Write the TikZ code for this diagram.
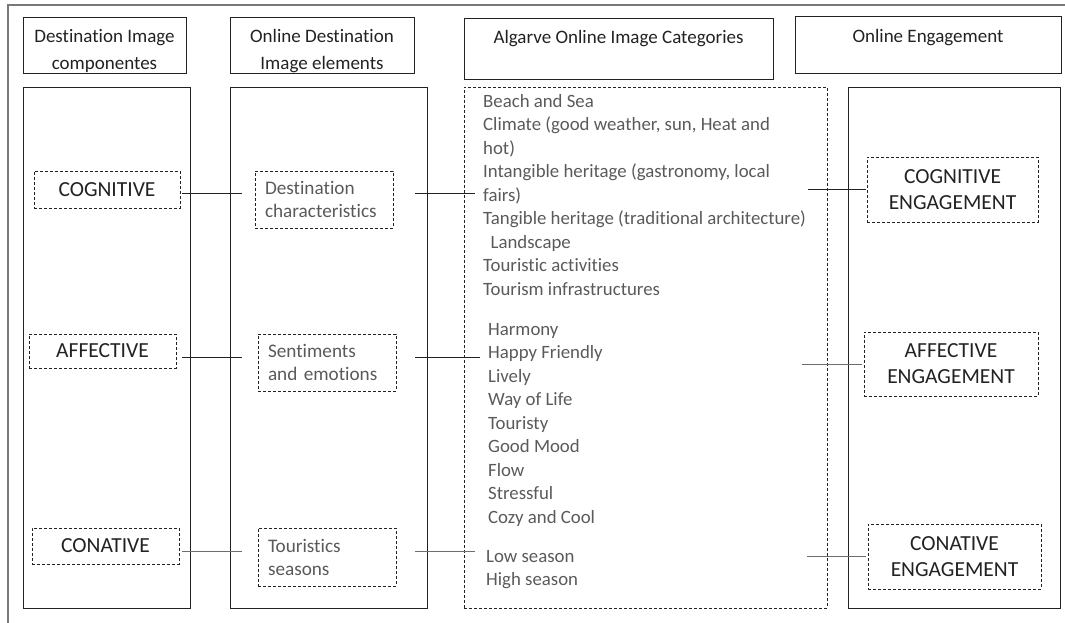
\documentclass[tikz,border=0pt]{standalone}
\usepackage{fontspec}
\setmainfont{Carlito}[Ligatures=NoCommon]
\usepackage{tikz}
\usetikzlibrary{positioning}
\definecolor{AlgInk}{RGB}{34,34,34}
\definecolor{AlgGray}{RGB}{90,90,90}
\definecolor{AlgLine}{RGB}{110,110,110}
\definecolor{AlgFrame}{RGB}{120,120,120}
\tikzset{
  alg/head/.style={
    draw=AlgInk,
    line width=0.9pt,
    align=center,
    text=AlgInk,
    anchor=center,
    inner sep=0pt,
    font=\fontsize{19}{27}\selectfont
  },
  alg/column/.style={
    draw=AlgInk,
    line width=0.9pt,
    inner sep=0pt,
    minimum height=521pt
  },
  alg/dcolumn/.style={
    alg/column,
    dashed,
    dash pattern=on 3pt off 2pt,
    line width=0.7pt
  },
  alg/label/.style={
    draw=AlgInk,
    dashed,
    dash pattern=on 3pt off 2pt,
    line width=0.7pt,
    align=center,
    text=AlgInk,
    inner sep=0pt,
    font=\fontsize{21.5}{26}\selectfont
  },
  alg/element/.style={
    draw=AlgInk,
    dashed,
    dash pattern=on 3pt off 2pt,
    line width=0.7pt,
    align=left,
    text=AlgGray,
    inner sep=0pt,
    text width=118pt,
    font=\fontsize{19.2}{23}\selectfont
  },
  alg/list/.style={
    anchor=west,
    align=left,
    text=AlgGray,
    inner sep=4pt,
    font=\fontsize{18.8}{23.5}\selectfont
  },
  alg/link/.style={line width=0.9pt, draw=AlgInk},
  alg/graylink/.style={line width=1pt, draw=AlgLine},
  alg/frame/.style={line width=1.3pt, draw=AlgFrame}
}
\begin{document}
\begin{tikzpicture}[x=1pt,y=-1pt]
  \useasboundingbox (0,0) rectangle (1065,623);
  \draw[alg/frame] (1065,5) -- (8,5) -- (8,623);
  % column headers
  \node[alg/head,minimum width=163pt,minimum height=56pt] (h1) at (104.5,45) {\strut\\[-21pt]Destination Image\\componentes};
  \node[alg/head,minimum width=184pt,minimum height=56pt] (h2) at (322,45) {\strut\\[-21pt]Online Destination\\Image elements};
  \node[alg/head,minimum width=309pt,minimum height=61pt] (h3) at (618.5,48.5) {Algarve Online Image Categories\\[-12pt]\strut};
  \node[alg/head,minimum width=266pt,minimum height=57pt] (h4) at (928,44.5) {Online Engagement\\[-18pt]\strut};
  % columns
  \node[alg/column,minimum width=167pt] (c1) at (106.5,347.5) {};
  \node[alg/column,minimum width=197pt] (c2) at (328.5,347.5) {};
  \node[alg/dcolumn,minimum width=363pt] (c3) at (645.5,347.5) {};
  \node[alg/column,minimum width=212pt] (c4) at (954,347.5) {};
  % components
  \node[alg/label,minimum width=146pt,minimum height=37pt] (cog) at (107,189.5) {COGNITIVE};
  \node[alg/label,minimum width=147pt,minimum height=34pt] (aff) at (102.5,351) {AFFECTIVE};
  \node[alg/label,minimum width=147pt,minimum height=36pt] (con) at (105.5,546) {CONATIVE};
  % elements
  \node[alg/element,minimum width=138pt,minimum height=57pt] (dc) at (324,199.5) {Destination\\characteristics};
  \node[alg/element,minimum width=138pt,minimum height=57pt] (se) at (327,362.5) {Sentiments\\and emotions};
  \node[alg/element,minimum width=138pt,minimum height=58pt] (ts) at (327,557) {Touristics\\seasons};
  % categories
  \node[alg/list] (g1) at (479,195) {Beach and Sea\\Climate (good weather, sun, Heat and\\hot)\\Intangible heritage (gastronomy, local\\fairs)\\Tangible heritage (traditional architecture)\\\hspace*{0.4em}Landscape\\Touristic activities\\Tourism infrastructures};
  \node[alg/list] (g2) at (484,424.5) {Harmony\\Happy Friendly\\Lively\\Way of Life\\Touristy\\Good Mood\\Flow\\Stressful\\Cozy and Cool};
  \node[alg/list] (g3) at (482,569.5) {Low season\\High season};
  % engagement
  \node[alg/label,minimum width=171pt,minimum height=65pt] (ce) at (952.5,189.5) {COGNITIVE\\ENGAGEMENT};
  \node[alg/label,minimum width=174pt,minimum height=64pt] (ae) at (951,364) {AFFECTIVE\\ENGAGEMENT};
  \node[alg/label,minimum width=173pt,minimum height=65pt] (ne) at (954.5,556.5) {CONATIVE\\ENGAGEMENT};
  % links
  \draw[alg/link,shorten <=2pt,shorten >=13pt] ([yshift=-3.5pt]cog.east) -- ([yshift=-3.5pt]cog.east -| dc.west);
  \draw[alg/link,shorten <=22pt,shorten >=4pt] ([yshift=-3.5pt]dc.east |- cog.east) -- ([yshift=-3.5pt]g1.west |- cog.east);
  \draw[alg/link,shorten <=-19pt,shorten >=1pt] (c3.east |- ce.west) -- (ce.west);
  \draw[alg/link,shorten <=6pt,shorten >=16pt] ([yshift=-6pt]aff.east) -- ([yshift=-6pt]aff.east -| se.west);
  \draw[alg/link,shorten <=19pt,shorten >=4pt] ([yshift=-6pt]se.east |- aff.east) -- ([yshift=-6pt]g2.west |- aff.east);
  \draw[alg/graylink,shorten <=-25pt,shorten >=2pt] (c3.east |- ae.west) -- (ae.west);
  \draw[alg/graylink,shorten <=3pt,shorten >=16pt] ([yshift=-5pt]con.east) -- ([yshift=-5pt]con.east -| ts.west);
  \draw[alg/graylink,shorten <=19pt,shorten >=7pt] ([yshift=-5pt]ts.east |- con.east) -- ([yshift=-5pt]g3.west |- con.east);
  \draw[alg/graylink,shorten <=-20pt,shorten >=2pt] (c3.east |- ne.west) -- (ne.west);
\end{tikzpicture}
\end{document}
